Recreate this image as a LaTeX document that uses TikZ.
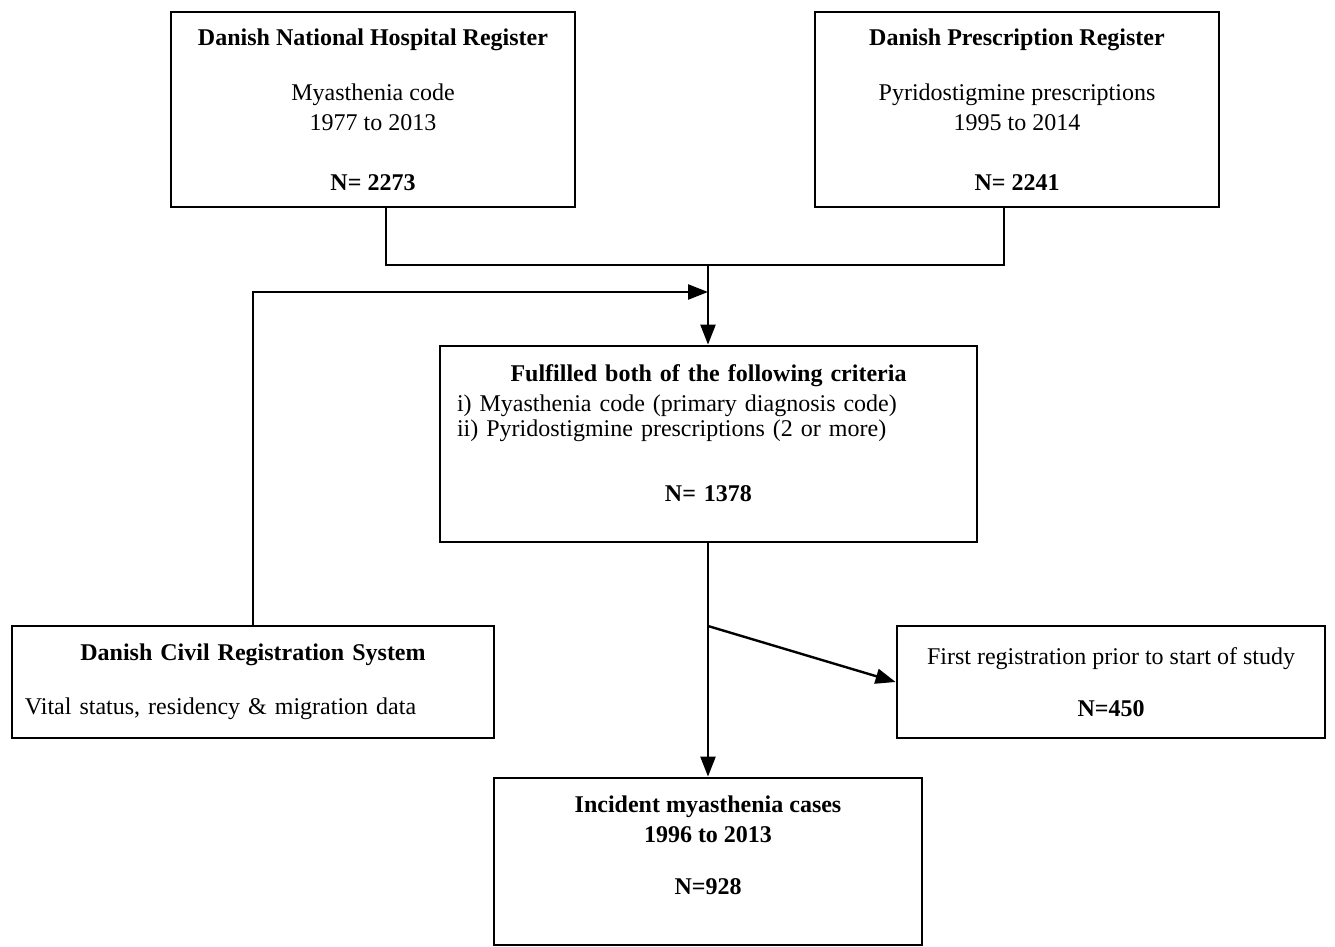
\documentclass[tikz,border=0pt]{standalone}
\usepackage{fontspec}
\setmainfont{Liberation Serif}
\usetikzlibrary{arrows.meta}

\tikzset{
  regbox/.style={draw, line width=1.4pt, align=center, inner sep=0pt, font=\fontsize{12}{15}\selectfont},
  flow/.style={line width=1.2pt},
  flowarrow/.style={flow, -{Triangle[length=10pt,width=7.5pt]}}
}

\begin{document}
\begin{tikzpicture}[x=0.5pt,y=-0.5pt]
  \useasboundingbox (0,0) rectangle (1335,947);

  \node[regbox, minimum width=202pt, minimum height=97.5pt] (hosp) at (373,109.5)
    {\textbf{Danish National Hospital Register}\\[12.5pt]
     Myasthenia code\\ 1977 to 2013\\[15pt] \textbf{N= 2273}};
  \node[regbox, minimum width=202pt, minimum height=97.5pt] (presc) at (1017,109.5)
    {\textbf{Danish Prescription Register}\\[12.5pt]
     Pyridostigmine prescriptions\\ 1995 to 2014\\[15pt] \textbf{N= 2241}};
  \node[regbox, align=left, text width=251.5pt, inner xsep=8.5pt, minimum height=98pt] (crit) at (708.5,444)
    {\makebox[251.5pt]{\textbf{Fulfilled both of the following criteria}}\\
     i) Myasthenia code (primary diagnosis code)\\[-2.5pt]
     ii) Pyridostigmine prescriptions (2 or more)\\[17.5pt]
     \makebox[251.5pt]{\textbf{N= 1378}}\\[-4pt]\mbox{}};
  \node[regbox, align=left, text width=228pt, inner xsep=6.5pt, minimum height=56pt] (civil) at (253,682)
    {\makebox[228pt]{\textbf{Danish Civil Registration System}}\\[12pt]
     Vital status, residency \& migration data};
  \node[regbox, minimum width=214pt, minimum height=56pt] (first) at (1111,682)
    {First registration prior to start of study\\[11pt] \textbf{N=450}};
  \node[regbox, minimum width=214pt, minimum height=83.5pt] (incid) at (708,861.5)
    {\textbf{Incident myasthenia cases}\\ \textbf{1996 to 2013}\\[11pt]
     \textbf{N=928}\\[1pt]\mbox{}};

  \coordinate (join) at (708,265);
  \coordinate (merge) at (708,292);
  \coordinate (split) at (708,626);

  \draw[flow] ([xshift=6.5pt]hosp.south) |- (join);
  \draw[flow] ([xshift=-6.5pt]presc.south) |- (join);
  \draw[flowarrow] (join) -- (join |- crit.north);
  \draw[flowarrow] (civil.north) |- (merge);
  \draw[flowarrow] (join |- crit.south) -- (join |- incid.north);
  \draw[flowarrow] (split) -- (first.west);
\end{tikzpicture}
\end{document}
